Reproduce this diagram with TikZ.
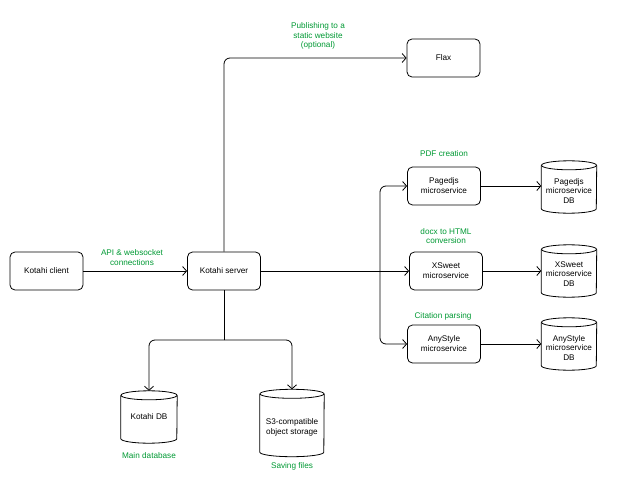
\documentclass[tikz,border=0pt]{standalone}
\usepackage{fontspec}
\setmainfont{Liberation Sans}
\usetikzlibrary{arrows.meta,calc}
\definecolor{lblgreen}{RGB}{0,153,51}
\newcommand\txtfont{\fontsize{8.2}{9.5}\selectfont}
\tikzset{
 box/.style={draw, rounded corners=5pt, line width=0.8pt, minimum width=73pt, minimum height=38pt, align=center, font=\fontsize{8.2}{10}\selectfont, inner sep=1pt},
 db/.style={minimum width=#1, inner sep=0pt},
 dbtext/.style={align=center, font=\txtfont, inner sep=0pt, yshift=#1},
 conn/.style={line width=0.8pt},
 arr/.style={conn, -{Straight Barb[length=4pt,width=9pt]}},
 lbl/.style={text=lblgreen, align=center, font=\txtfont, inner sep=0pt},
}
\newcommand\cyl[2]{%
 \draw[conn] ($(#1.north west)+(0,-4.5pt)$) -- ($(#1.south west)+(0,4.5pt)$) arc[start angle=180,end angle=360,x radius=#2,y radius=4.5pt] -- ($(#1.north east)+(0,-4.5pt)$);
 \draw[conn] ($(#1.north)+(0,-4.5pt)$) ellipse[x radius=#2,y radius=4.5pt];
}
\begin{document}
\begin{tikzpicture}[x=1pt,y=-1pt]
\useasboundingbox (0,0) rectangle (626,500);
% boxes
\node[box] (client) at (46.5,271) {Kotahi client};
\node[box] (server) at (224,271) {Kotahi server};
\node[box] (flax) at (443.5,58) {Flax};
\node[box] (pagedjs) at (444,186) {Pagedjs\\microservice};
\node[box] (xsweet) at (446,271) {XSweet\\microservice};
\node[box] (anystyle) at (444,344) {AnyStyle\\microservice};
% databases
\node[db=55pt, minimum height=52pt, label={[dbtext=-4pt]center:Pagedjs\\microservice\\DB}] (pdb) at (569,187) {};
\node[db=55pt, minimum height=52pt, label={[dbtext=-3pt]center:XSweet\\microservice\\DB}] (xdb) at (569,271) {};
\node[db=55pt, minimum height=52pt, label={[dbtext=-4pt]center:AnyStyle\\microservice\\DB}] (adb) at (569,344) {};
\node[db=56pt, minimum height=52pt, label={[dbtext=0pt]center:Kotahi DB}] (kdb) at (149,417) {};
\node[db=64pt, minimum height=67pt, label={[dbtext=-4.5pt]center:S3-compatible\\object storage}] (s3) at (292,423) {};
\cyl{pdb}{27.5pt}
\cyl{xdb}{27.5pt}
\cyl{adb}{27.5pt}
\cyl{kdb}{28pt}
\cyl{s3}{32pt}
% labels
\node[lbl] (lapi) at (132,257.5) {API \& websocket\\connections};
\node[lbl] (lpub) at (318,36) {Publishing to a\\static website\\(optional)};
\node[lbl] (lpdf) at (444,154) {PDF creation};
\node[lbl] (ldocx) at (446,236) {docx to HTML\\conversion};
\node[lbl] (lcit) at (443,316) {Citation parsing};
\node[lbl] (lmain) at (149,455.5) {Main database};
\node[lbl] (lsave) at (292,466) {Saving files};
% junctions
\coordinate (jr) at (380,271);
\coordinate (jb) at (224,340);
% connectors
\draw[arr] (client) -- (server);
\draw[arr, rounded corners=6pt] (server.north) |- (flax.west);
\draw[conn] (server.east) -- (jr);
\draw[arr, rounded corners=6pt] (jr) |- (pagedjs.west);
\draw[arr] (jr) -- (xsweet.west);
\draw[arr, rounded corners=6pt] (jr) |- (anystyle.west);
\draw[conn] (server.south) -- (jb);
\draw[arr, rounded corners=6pt] (jb) -| (kdb.north);
\draw[arr, rounded corners=6pt] (jb) -| (s3.north);
\draw[arr] (pagedjs.east) -- (pagedjs.east -| pdb.west);
\draw[arr] (xsweet.east) -- (xsweet.east -| xdb.west);
\draw[arr] (anystyle.east) -- (anystyle.east -| adb.west);
\end{tikzpicture}
\end{document}
